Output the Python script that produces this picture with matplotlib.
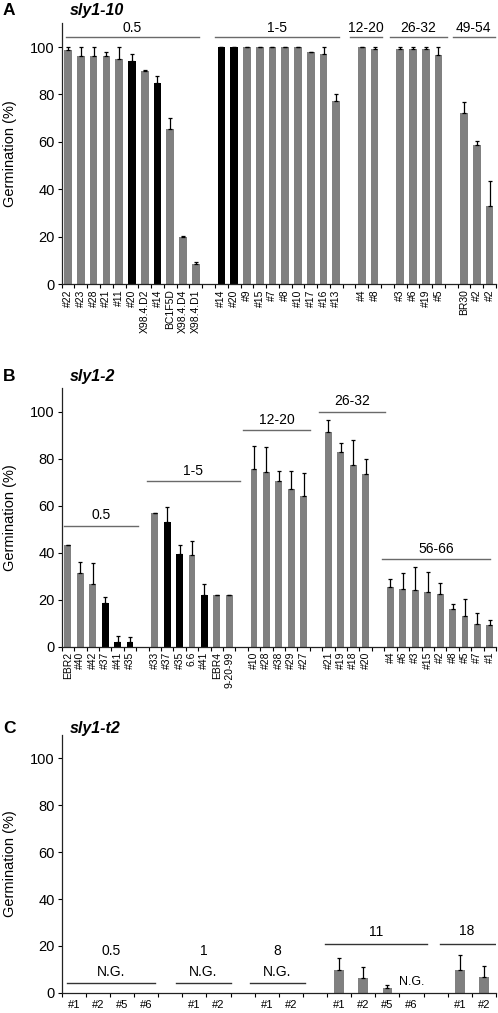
import matplotlib.pyplot as plt
import numpy as np

plt.rcParams['font.family'] = ['Liberation Sans', 'DejaVu Sans']

# panel A: sly1-10
a_groups = ['0.5', '1-5', '12-20', '26-32', '49-54']
a_labels = [['#22', '#23', '#28', '#21', '#11', '#20', 'X98.4.D2', '#14', 'BC1F5D', 'X98.4.D4', 'X98.4.D1'],
            ['#14', '#20', '#9', '#15', '#7', '#8', '#10', '#17', '#16', '#13'],
            ['#4', '#8'],
            ['#3', '#6', '#19', '#5'],
            ['BR30', '#2', '#2']]
a_values = [[98.6, 96.4, 96.2, 96.2, 95.0, 94.1, 90.1, 84.9, 65.4, 19.9, 8.5],
            [100, 100, 100, 100, 100, 100, 100, 97.8, 97.2, 77.1],
            [100, 99.0],
            [99.0, 99.0, 99.0, 96.5],
            [72.4, 58.7, 32.9]]
a_errors = [[1.4, 3.6, 3.8, 1.7, 5.0, 3.1, 0.2, 2.8, 4.9, 0.4, 0.9],
            [0, 0, 0, 0, 0, 0, 0, 0.3, 2.8, 3.1],
            [0, 1.0],
            [1.0, 1.0, 1.0, 3.5],
            [4.3, 1.5, 10.6]]
a_black = [[5, 7], [0, 1], [], [], []]

# panel B: sly1-2
b_groups = ['0.5', '1-5', '12-20', '26-32', '56-66']
b_labels = [['EBR2', '#40', '#42', '#37', '#41', '#35'],
            ['#33', '#37', '#35', '6.6', '#41', 'EBR4', '9-20-99'],
            ['#10', '#28', '#38', '#29', '#27'],
            ['#21', '#19', '#18', '#20'],
            ['#4', '#6', '#3', '#15', '#2', '#8', '#5', '#7', '#1']]
b_values = [[43.3, 31.2, 26.7, 18.7, 2.1, 1.8],
            [56.7, 53.2, 39.3, 38.9, 22.0, 22.0, 22.0],
            [75.5, 74.3, 70.6, 67.0, 64.1],
            [91.2, 82.8, 77.2, 73.5],
            [25.2, 24.7, 24.1, 23.3, 22.3, 15.9, 13.2, 9.5, 9.2]]
b_errors = [[0, 5.0, 8.8, 2.6, 2.6, 2.5],
            [0, 6.4, 4.2, 6.2, 4.7, 0, 0],
            [10.0, 10.9, 4.0, 8.0, 9.9],
            [5.3, 4.0, 10.7, 6.2],
            [3.5, 6.5, 9.9, 8.3, 4.9, 2.1, 6.9, 4.7, 2.3]]
b_black = [[3, 4, 5], [1, 2, 4], [], [], []]

# panel C: sly1-t2 (nan = not germinated)
c_groups = ['0.5', '1', '8', '11', '18']
c_labels = [['#1', '#2', '#5', '#6'], ['#1', '#2'], ['#1', '#2'],
            ['#1', '#2', '#5', '#6'], ['#1', '#2']]
c_values = [[np.nan] * 4, [np.nan] * 2, [np.nan] * 2,
            [9.6, 6.5, 2.1, np.nan], [9.9, 6.9]]
c_errors = [[0] * 4, [0] * 2, [0] * 2, [5.4, 4.3, 1.4, 0], [6.0, 4.4]]
c_black = [[], [], [], [], []]

GRAY = '#808080'
FS = 10

fig = plt.figure(figsize=(4.98, 10.13), dpi=100)


def draw_panel(rect, labels, values, errors, black, width, rotation, xfs, xpad):
    ax = fig.add_axes(rect)
    xs = []
    start = 0
    for grp in labels:
        xs.append(np.arange(start, start + len(grp)))
        start += len(grp) + 1
    n = start - 1
    for x, v, e, blk in zip(xs, values, errors, black):
        v = np.array(v, dtype=float)
        cols = ['black' if i in blk else GRAY for i in range(len(v))]
        ax.bar(x, np.nan_to_num(v), width=width, color=cols, zorder=2)
        ok = ~np.isnan(v)
        ax.errorbar(x[ok], v[ok], yerr=[np.zeros(ok.sum()), np.array(e)[ok]],
                    fmt='none', ecolor='black', elinewidth=0.9, capsize=1.6,
                    capthick=0.9, zorder=3)
    ax.set_xlim(-0.5, n - 0.5)
    ax.set_ylim(0, 110)
    ax.set_yticks([0, 20, 40, 60, 80, 100])
    ax.tick_params(axis='y', labelsize=10.5, length=3, width=0.8, pad=2)
    ax.set_xticks(np.concatenate(xs))
    ax.set_xticklabels(sum(labels, []), rotation=rotation, fontsize=xfs)
    ax.set_xticks(np.arange(-0.5, n), minor=True)
    ax.tick_params(axis='x', which='major', length=0, pad=xpad)
    ax.tick_params(axis='x', which='minor', length=3, width=0.8)
    for s in ['top', 'right']:
        ax.spines[s].set_visible(False)
    for s in ['left', 'bottom']:
        ax.spines[s].set_linewidth(0.9)
        ax.spines[s].set_color('#222222')
    ax.set_ylabel('Germination (%)', fontsize=10.5, va='center')
    ax.yaxis.set_label_coords(-0.118, 0.5)
    return ax, xs


def group_lines(ax, xs, names, heights, pads, color, dy):
    for x, name, h, p in zip(xs, names, heights, pads):
        x0, x1 = x[0] + p[0], x[-1] + p[1]
        ax.plot([x0, x1], [h, h], color=color, lw=1.0, clip_on=False)
        ax.text((x0 + x1) / 2, h + dy, name, ha='center', va='center',
                fontsize=FS, clip_on=False)


# A
axA, xsA = draw_panel([0.1239, 0.7193, 0.872, 0.2577], a_labels, a_values,
                      a_errors, a_black, 0.6, 90, 7.5, 3.5)
group_lines(axA, xsA, a_groups, [104.2] * 5,
            [(-0.2, 0.25), (-0.5, 0.25), (-0.9, 0.6), (-0.8, 0.7), (-0.9, 0.4)],
            '#6a6a6a', 3.9)
fig.text(0.006, 0.9895, 'A', fontsize=12.5, fontweight='bold', va='center')
fig.text(0.14, 0.9895, 'sly1-10', fontsize=11.5, fontweight='bold',
         fontstyle='italic', va='center')

# B
axB, xsB = draw_panel([0.1239, 0.3616, 0.872, 0.2551], b_labels, b_values,
                      b_errors, b_black, 0.55, 90, 7.5, 3.5)
group_lines(axB, xsB, b_groups, [51.5, 70.5, 92.2, 100.0, 37.2],
            [(-0.3, 0.65), (-0.65, 0.85), (-0.85, 0.55), (-0.8, 1.55), (-0.7, 0.05)],
            '#6a6a6a', 4.5)
fig.text(0.006, 0.6288, 'B', fontsize=12.5, fontweight='bold', va='center')
fig.text(0.14, 0.6288, 'sly1-2', fontsize=11.5, fontweight='bold',
         fontstyle='italic', va='center')

# C
axC, xsC = draw_panel([0.1239, 0.0200, 0.872, 0.2544], c_labels, c_values,
                      c_errors, c_black, 0.4, 0, 8, 5.5)
c_heights = [4.0, 4.0, 4.0, 20.7, 21.0]
c_pads = [(-0.3, 0.37), (-0.76, 0.51), (-0.7, 0.58), (-0.6, 0.63), (-0.84, 0.45)]
for i, (x, name, h, p) in enumerate(zip(xsC, c_groups, c_heights, c_pads)):
    x0, x1 = x[0] + p[0], x[-1] + p[1]
    axC.plot([x0, x1], [h, h], color='#333333', lw=1.0)
    if np.all(np.isnan(c_values[i])):
        axC.text((x0 + x1) / 2, 8.9, 'N.G.', ha='center', va='center', fontsize=FS)
        axC.text((x0 + x1) / 2, 17.7, name, ha='center', va='center', fontsize=FS)
    else:
        axC.text((x0 + x1) / 2, h + 5.2, name, ha='center', va='center', fontsize=FS)
        for j, v in enumerate(c_values[i]):
            if np.isnan(v):
                axC.text(x[j], 4.4, 'N.G.', ha='center', va='center', fontsize=FS - 1)
fig.text(0.006, 0.2806, 'C', fontsize=12.5, fontweight='bold', va='center')
fig.text(0.14, 0.2806, 'sly1-t2', fontsize=11.5, fontweight='bold',
         fontstyle='italic', va='center')

fig.savefig('out.png', dpi=100)
